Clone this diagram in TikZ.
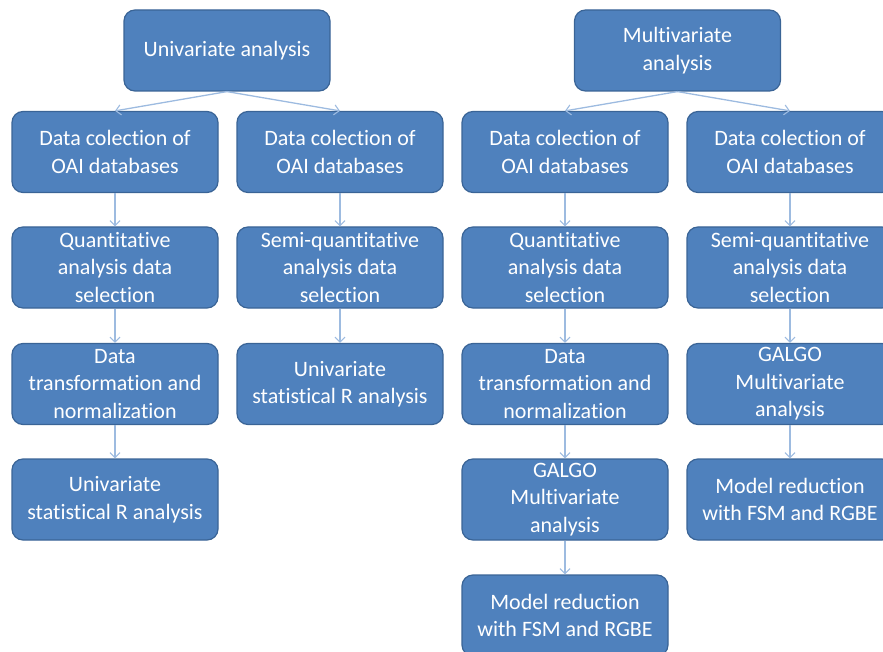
\documentclass[tikz,border=0pt]{standalone}
\usepackage{fontspec}
\setmainfont{Carlito}[Ligatures=NoCommon]
\usetikzlibrary{arrows.meta}
\definecolor{boxfill}{HTML}{4F81BD}
\definecolor{boxline}{HTML}{3A6496}
\definecolor{linkcol}{HTML}{9DBBE0}
\begin{document}
\begin{tikzpicture}[x=1pt,y=-1pt,
  stepbox/.style={draw=boxline,line width=1.2pt,fill=boxfill,rounded corners=11pt,
    minimum width=206pt,minimum height=81pt,inner sep=2pt,align=center,
    text=white,font=\fontsize{22}{27.5}\selectfont},
  link/.style={draw=linkcol,line width=1.3pt,-{Straight Barb[length=5pt,width=10pt,line width=1.1pt]}}]
\useasboundingbox (0,0) rectangle (883,652);
\clip (0,0) rectangle (883,652);
% top level
\node[stepbox] (uni) at (227,50.5) {Univariate analysis};
\node[stepbox] (mul) at (677.5,50.5) {Multivariate\\analysis};
% univariate branch, quantitative
\node[stepbox] (a1) at (115,152) {Data colection of\\OAI databases};
\node[stepbox] (a2) at (115,267.5) {Quantitative\\analysis data\\selection};
\node[stepbox] (a3) at (115,384) {Data\\transformation and\\normalization};
\node[stepbox] (a4) at (115,499.5) {Univariate\\statistical R analysis};
% univariate branch, semi-quantitative
\node[stepbox] (b1) at (340,152) {Data colection of\\OAI databases};
\node[stepbox] (b2) at (340,267.5) {Semi-quantitative\\analysis data\\selection};
\node[stepbox] (b3) at (340,384) {Univariate\\statistical R analysis};
% multivariate branch, quantitative
\node[stepbox] (c1) at (565,152) {Data colection of\\OAI databases};
\node[stepbox] (c2) at (565,267.5) {Quantitative\\analysis data\\selection};
\node[stepbox] (c3) at (565,384) {Data\\transformation and\\normalization};
\node[stepbox] (c4) at (565,499.5) {GALGO\\Multivariate\\analysis};
\node[stepbox] (c5) at (565,615.5) {Model reduction\\with FSM and RGBE};
% multivariate branch, semi-quantitative
\node[stepbox] (d1) at (790,152) {Data colection of\\OAI databases};
\node[stepbox] (d2) at (790,267.5) {Semi-quantitative\\analysis data\\selection};
\node[stepbox] (d3) at (790,384) {GALGO\\Multivariate\\analysis};
\node[stepbox] (d4) at (790,499.5) {Model reduction\\with FSM and RGBE};
% connectors
\draw[link] (uni.south) -- (a1.north);
\draw[link] (uni.south) -- (b1.north);
\draw[link] (mul.south) -- (c1.north);
\draw[link] (mul.south) -- (d1.north);
\draw[link] (a1) -- (a2);
\draw[link] (a2) -- (a3);
\draw[link] (a3) -- (a4);
\draw[link] (b1) -- (b2);
\draw[link] (b2) -- (b3);
\draw[link] (c1) -- (c2);
\draw[link] (c2) -- (c3);
\draw[link] (c3) -- (c4);
\draw[link] (c4) -- (c5);
\draw[link] (d1) -- (d2);
\draw[link] (d2) -- (d3);
\draw[link] (d3) -- (d4);
\end{tikzpicture}
\end{document}
